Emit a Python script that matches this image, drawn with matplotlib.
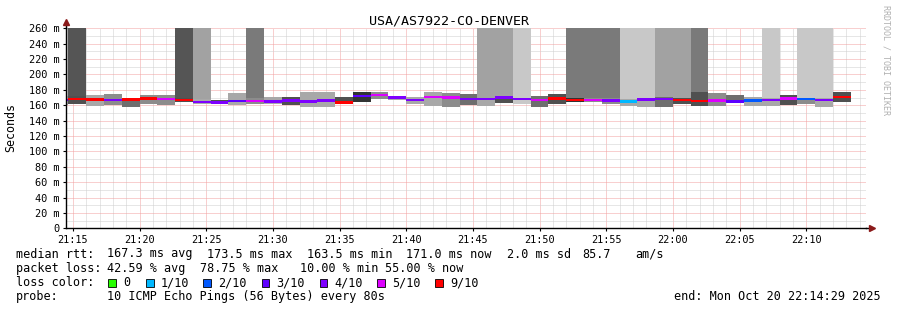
import matplotlib
matplotlib.use("Agg")
import matplotlib.pyplot as plt
import matplotlib.dates as mdates
from matplotlib.ticker import MultipleLocator, FuncFormatter
from matplotlib.patches import Rectangle
from datetime import datetime, timedelta

plt.rcParams['font.family'] = 'DejaVu Sans Mono'

title = "USA/AS7922-CO-DENVER"
t_start = datetime(2025, 10, 20, 21, 14, 29)
t_end = datetime(2025, 10, 20, 22, 14, 29)
first_bin = datetime(2025, 10, 20, 21, 13, 20)
step = timedelta(seconds=80)

# one entry per 80 s probe round
median_ms = [167, 168, 167.5, 166.5, 167.3, 169, 168, 166.5, 164.5, 163.5, 165.5,
             165.5, 164.7, 166, 165, 166, 163.5, 172, 173, 170, 167, 171,
             170, 168, 168, 170, 168, 167, 169, 167, 167, 166, 165, 167.3,
             168, 166.7, 165.8, 166, 164.6, 166, 166.8, 168.6, 168, 167, 171]
loss_level = [4, 6, 6, 4, 6, 6, 5, 6, 4, 4, 3,
              5, 4, 4, 4, 4, 6, 3, 5, 4, 4, 5,
              5, 4, 4, 4, 4, 5, 6, 6, 5, 4, 1, 4,
              4, 6, 6, 5, 3, 2, 4, 5, 2, 4, 6]
smoke_lo = [160, 162, 159, 160, 158, 161, 160, 164, 162, 161, 160,
            162, 162, 160, 158, 158, 162, 164, 168, 167, 161, 159,
            158, 160, 159, 163, 162, 158, 162, 164, 164, 161, 158.6, 158,
            158, 161, 158.6, 158.6, 162.5, 158.6, 158.6, 160, 161, 158, 164]
smoke_hi = [172, 172, 173, 174, 170, 173, 173, 170, 168, 167, 176,
            169, 171, 171, 177, 177, 171, 177, 177, 172, 171, 177,
            176, 175, 170, 172, 170, 172, 174, 170, 169, 169, 168, 170,
            171, 169, 177, 176, 173, 171, 170, 173, 170, 170, 177]
# smoke darkness (1 light .. 6 dark)
smoke_level = [2, 5, 2, 3, 4, 3, 3, 5, 2, 5, 2,
               3, 2, 5, 2, 2, 5, 6, 3, 2, 2, 2,
               3, 4, 2, 5, 1, 4, 5, 6, 3, 3, 2, 2,
               4, 5, 5, 3, 4, 2, 2, 5, 3, 2, 5]
# lost-ping columns reaching the top (0 none, 1 light .. 4 dark)
column_level = [1, 4, 0, 0, 0, 0, 0, 4, 2, 0, 0,
                3, 0, 0, 0, 0, 0, 0, 0, 0, 0, 0,
                0, 0, 2, 2, 1, 0, 0, 3, 3, 3, 1, 1,
                2, 2, 3, 0, 0, 0, 1, 0, 1, 1, 0]

loss_labels = ["0", "1/10", "2/10", "3/10", "4/10", "5/10", "9/10"]
loss_colors = ["#26ff00", "#00b8ff", "#0059ff", "#5e00ff", "#7e00ff", "#dd00ff", "#ff0000"]

rtt_stats = [("167.3 ms avg", 107), ("173.5 ms max", 207), ("163.5 ms min", 307),
             ("171.0 ms now", 406), ("2.0 ms sd", 507), ("85.7", 582), ("am/s", 635)]
loss_stats = [("42.59 % avg", 107), ("78.75 % max", 200), ("10.00 % min", 300),
              ("55.00 % now", 385)]
probe_text = "10 ICMP Echo Pings (56 Bytes) every 80s"
end_text = "end: Mon Oct 20 22:14:29 2025"

smoke_palette = {1: '#c8c8c8', 2: '#a8a8a8', 3: '#8c8c8c', 4: '#6e6e6e', 5: '#505050', 6: '#333333'}
column_palette = {1: '#c8c8c8', 2: '#a2a2a2', 3: '#7a7a7a', 4: '#555555'}

W, H = 897, 310
fig = plt.figure(figsize=(W / 100, H / 100), dpi=100)
fig.patch.set_facecolor('white')
ax = fig.add_axes([66 / W, (H - 228.3) / H, 800 / W, 200 / H])

starts = [first_bin + i * step for i in range(len(median_ms))]

# lost-ping columns
for x, lo, lvl in zip(starts, smoke_lo, column_level):
    if lvl:
        ax.bar(x, 400, width=step, bottom=lo, align='edge',
               color=column_palette[lvl], linewidth=0, zorder=2)
# smoke
for x, lo, hi, lvl in zip(starts, smoke_lo, smoke_hi, smoke_level):
    ax.bar(x, hi - lo, width=step, bottom=lo, align='edge',
           color=smoke_palette[lvl], linewidth=0, zorder=3)
# median coloured by loss
for x, m, l in zip(starts, median_ms, loss_level):
    ax.bar(x, 3.2, width=step, bottom=m - 1.6, align='edge',
           color=loss_colors[l], linewidth=0, zorder=4)

ax.set_xlim(t_start, t_end)
ax.set_ylim(0, 260)

ax.xaxis.set_major_locator(mdates.MinuteLocator(byminute=range(0, 60, 5)))
ax.xaxis.set_minor_locator(mdates.MinuteLocator())
ax.xaxis.set_major_formatter(mdates.DateFormatter('%H:%M'))
ax.yaxis.set_major_locator(MultipleLocator(20))
ax.yaxis.set_minor_locator(MultipleLocator(10))
ax.yaxis.set_major_formatter(FuncFormatter(lambda v, p: "0" if v == 0 else f"{int(v)} m"))

ax.set_axisbelow(True)
ax.grid(which='minor', color='#cfcfcf', linestyle=(0, (1, 1)), linewidth=0.72)
ax.grid(which='major', color='#f2a0a0', linestyle=(0, (1, 1)), linewidth=0.72)

for s in ['top', 'right']:
    ax.spines[s].set_visible(False)
for s in ['left', 'bottom']:
    ax.spines[s].set_linewidth(1.0)
    ax.spines[s].set_color('black')
    ax.spines[s].set_zorder(6)

ax.tick_params(which='major', length=2.5, width=0.8, pad=2, labelsize=7.4, direction='out')
ax.tick_params(which='minor', length=0)

# axis arrows
ax.plot([0, 0], [1, 1.03], color='black', lw=1, transform=ax.transAxes, clip_on=False)
ax.plot([1, 1.006], [0, 0], color='black', lw=1, transform=ax.transAxes, clip_on=False)
ax.plot([0], [1.032], marker='^', color='#8b1a1a', markersize=4, transform=ax.transAxes, clip_on=False)
ax.plot([1.007], [0], marker='>', color='#8b1a1a', markersize=4, transform=ax.transAxes, clip_on=False)

def px(x, y):
    return x / W, 1 - y / H

fig.text(*px(448.5, 24.5), title, ha='center', va='baseline', fontsize=9.6)
fig.text(*px(11, 127), "Seconds", rotation=90, ha='center', va='center', fontsize=8.4)
fig.text(*px(886, 60), "RRDTOOL / TOBI OETIKER", rotation=270, ha='center', va='center',
         fontsize=6, color='#b0b0b0')

fs = 8.5
fig.text(*px(16, 257.5), "median rtt:", va='baseline', fontsize=fs)
for txt, x in rtt_stats:
    fig.text(*px(x, 257.5), txt, va='baseline', fontsize=fs)
fig.text(*px(16, 271.8), "packet loss:", va='baseline', fontsize=fs)
for txt, x in loss_stats:
    fig.text(*px(x, 271.8), txt, va='baseline', fontsize=fs)
fig.text(*px(16, 286), "loss color:", va='baseline', fontsize=fs)
box_x = [108, 146, 203, 261.5, 319.5, 377, 435]
for bx, lab, col in zip(box_x, loss_labels, loss_colors):
    fig.patches.append(Rectangle(px(bx, 286.5), 7.5 / W, 7.5 / H, transform=fig.transFigure,
                                 facecolor=col, edgecolor='black', linewidth=0.6))
    fig.text(*px(bx + 15, 286), lab, va='baseline', fontsize=fs)
fig.text(*px(16, 300.3), "probe:", va='baseline', fontsize=fs)
fig.text(*px(107, 300.3), probe_text, va='baseline', fontsize=fs)
fig.text(*px(881, 300.3), end_text, ha='right', va='baseline', fontsize=fs)

fig.savefig("out.png", dpi=100)
